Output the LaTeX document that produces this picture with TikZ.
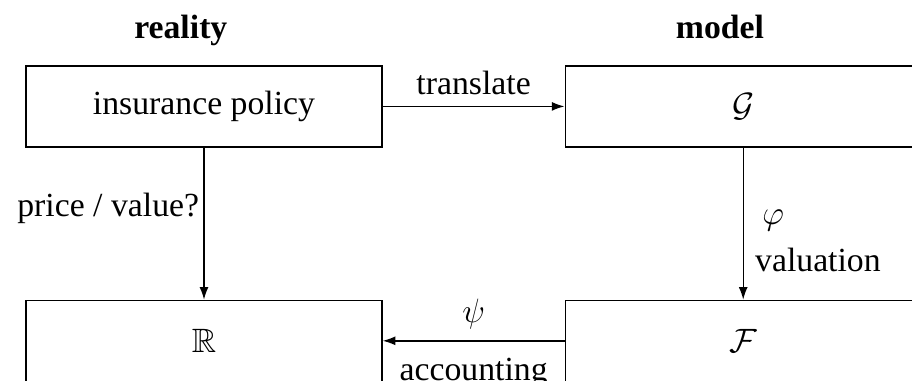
\documentclass[tikz,border=0pt,12pt]{standalone}
\usepackage{amssymb}
\usepackage{fontspec}
\setmainfont{Liberation Serif}
\usetikzlibrary{arrows.meta}

\tikzset{
    stage/.style={draw, line width=0.5pt, minimum width=4.45cm, minimum height=1.01cm, inner sep=0pt},
    flow/.style={line width=0.5pt, -{Latex[length=4.5pt,width=3.2pt]}},
    side/.style={font=\bfseries, anchor=base}
}

\begin{document}
\begin{tikzpicture}
    \useasboundingbox (0,0) rectangle (11.4,4.75);
    % Column titles
    \node[side] (realityhead) at (2.26,4.275) {reality};
    \node[side] (modelhead) at (9.0,4.275) {model};
    % Boxes
    \node[stage] (policy) at (2.55,3.42) {insurance policy};
    \node[stage] (gen) at (9.29,3.42) {$\mathcal{G}$};
    \node[stage] (reals) at (2.55,0.49) {$\mathbb{R}$};
    \node[stage] (flows) at (9.29,0.49) {$\mathcal{F}$};
    % Connectors
    \draw[flow] (policy) -- (gen) node[midway, above] {translate};
    \draw[flow] (policy) -- (reals) node[pos=0.4, left, inner sep=1.5pt] {price~/ value?};
    \draw[flow] (gen) -- (flows)
        node[pos=0.48, right, xshift=2.6pt] {$\varphi$}
        node[pos=0.74, right] {valuation};
    \draw[flow] (flows) -- (reals)
        node[midway, above] {$\psi$}
        node[midway, below, yshift=-2pt] {accounting};
\end{tikzpicture}
\end{document}
